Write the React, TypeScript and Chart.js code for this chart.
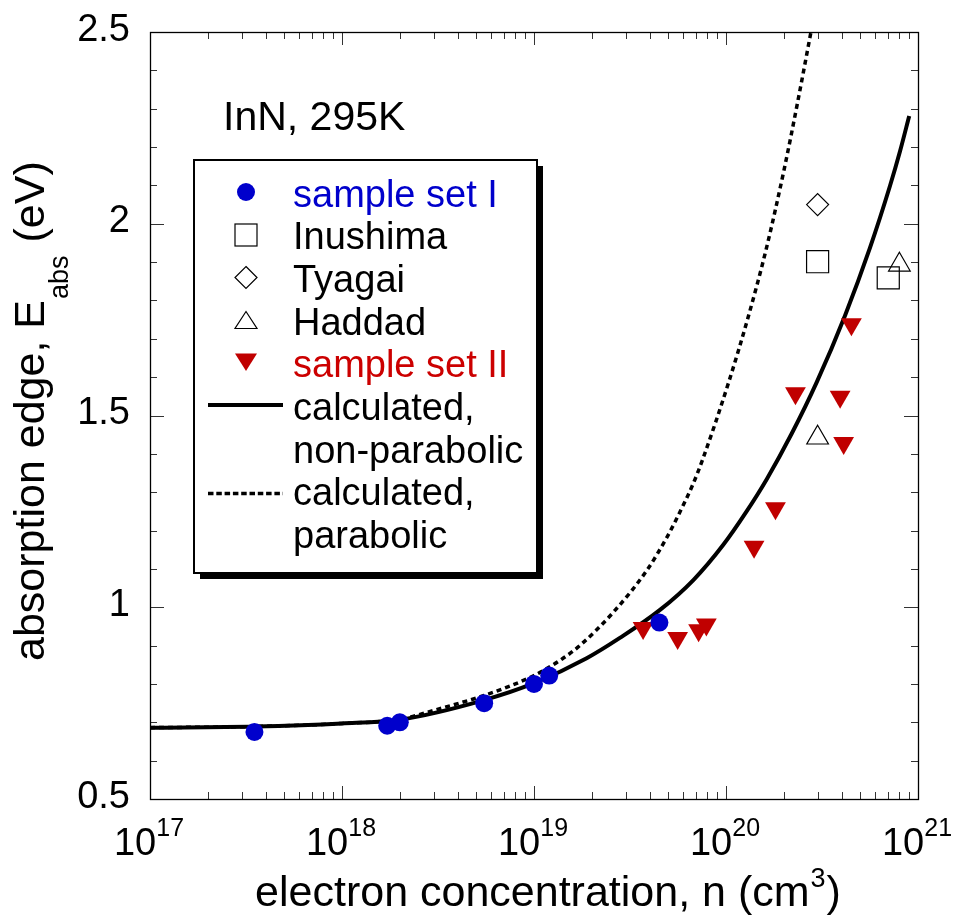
import React, { useEffect, useRef } from 'react';
import { Chart, registerables } from 'chart.js';

Chart.register(...registerables);

// ---------- data (electron concentration in cm^-3, absorption edge in eV) ----------
const setIDensity = [3.5e17, 1.72e18, 2.0e18, 5.5e18, 1.0e19, 1.2e19, 4.5e19];
const setIEdge = [0.675, 0.691, 0.7, 0.75, 0.8, 0.822, 0.96];

const setIIDensity = [3.7e19, 5.6e19, 7.2e19, 7.9e19, 1.4e20, 1.81e20, 2.3e20, 3.93e20, 4.1e20, 4.5e20];
const setIIEdge = [0.946, 0.92, 0.94, 0.955, 1.158, 1.258, 1.558, 1.549, 1.428, 1.738];

const inushimaDensity = [3.0e20, 7.0e20];
const inushimaEdge = [1.901, 1.859];

const tyagaiDensity = [3.0e20];
const tyagaiEdge = [2.05];

const haddadDensity = [3.0e20, 8.0e20];
const haddadEdge = [1.442, 1.893];

const nonParabolicDensity = [1e17, 3.5e17, 1e18, 2e18, 5.5e18, 1e19, 1.88e19, 2.8e19, 4.53e19, 6.76e19, 9.68e19, 1.28e20, 1.63e20, 2.2e20, 2.97e20, 4.17e20, 5.62e20, 7.15e20, 8.06e20, 9.0e20];
const nonParabolicEdge = [0.686, 0.689, 0.697, 0.707, 0.758, 0.802, 0.867, 0.92, 0.993, 1.071, 1.163, 1.25, 1.334, 1.453, 1.587, 1.761, 1.937, 2.099, 2.189, 2.281];

const parabolicDensity = [1e17, 3.5e17, 1e18, 2e18, 3.2e18, 5.5e18, 1e19, 1.4e19, 1.75e19, 2.6e19, 3.88e19, 4.93e19, 5.83e19, 6.77e19, 7.54e19, 1.03e20, 1.305e20, 1.616e20, 2.005e20, 2.357e20, 2.77e20];
const parabolicEdge = [0.686, 0.689, 0.697, 0.708, 0.735, 0.77, 0.822, 0.865, 0.902, 0.988, 1.097, 1.183, 1.254, 1.324, 1.384, 1.585, 1.757, 1.932, 2.14, 2.315, 2.5];

// ---------- axes ----------
const xMajorTicks = [1e17, 1e18, 1e19, 1e20, 1e21];
const xTickExponents = ['17', '18', '19', '20', '21'];
const yMajorTicks = [0.5, 1, 1.5, 2, 2.5];
const yTickLabels = ['0.5', '1', '1.5', '2', '2.5'];

const xTitle = 'electron concentration, n (cm';
const xTitleSup = '3';
const xTitleEnd = ')';
const yTitleMain = 'absorption edge, E';
const yTitleSub = 'abs';
const yTitleEnd = ' (eV)';
const annotation = 'InN, 295K';

const legendLabels = ['sample set I', 'Inushima', 'Tyagai', 'Haddad', 'sample set II', 'calculated,', 'non-parabolic', 'calculated,', 'parabolic'];
const legendColors = ['#0000CC', '#000', '#000', '#000', '#CC0000', '#000', '#000', '#000', '#000'];

const BLUE = '#0000CC';
const RED = '#C00000';
const FONT = "'Liberation Sans', Arial, Helvetica, sans-serif";

const toPoints = (xs: number[], ys: number[]) => xs.map((x, i) => ({ x, y: ys[i] }));

const decorPlugin = {
  id: 'decor',
  afterDraw(chart: any) {
    const ctx: CanvasRenderingContext2D = chart.ctx;
    const xs = chart.scales.x;
    const ys = chart.scales.y;
    const { left, right, top, bottom } = chart.chartArea;
    ctx.save();

    // ---- ticks (inward, all four sides) ----
    ctx.strokeStyle = '#333';
    ctx.lineWidth = 1;
    ctx.beginPath();
    for (let k = 0; k <= 20; k++) {
      const v = 0.5 + k * 0.1;
      const py = Math.round(ys.getPixelForValue(v)) + 0.5;
      const len = k % 5 === 0 ? 14 : 7;
      ctx.moveTo(left, py); ctx.lineTo(left + len, py);
      ctx.moveTo(right, py); ctx.lineTo(right - len, py);
    }
    for (let d = 17; d <= 21; d++) {
      for (let m = 1; m <= 9; m++) {
        if (d === 21 && m > 1) break;
        const v = m * Math.pow(10, d);
        const px = Math.round(xs.getPixelForValue(v)) + 0.5;
        const len = m === 1 ? 13 : 7;
        ctx.moveTo(px, bottom); ctx.lineTo(px, bottom - len);
        ctx.moveTo(px, top); ctx.lineTo(px, top + len);
      }
    }
    ctx.stroke();

    // ---- frame ----
    ctx.strokeStyle = '#000';
    ctx.lineWidth = 1.3;
    ctx.strokeRect(Math.round(left) + 0.5, Math.round(top) + 0.5, Math.round(right - left), Math.round(bottom - top));

    // ---- y tick labels ----
    ctx.fillStyle = '#000';
    ctx.font = `38px ${FONT}`;
    ctx.textAlign = 'right';
    ctx.textBaseline = 'alphabetic';
    yMajorTicks.forEach((v, i) => {
      ctx.fillText(yTickLabels[i], 130, ys.getPixelForValue(v) + 8.5);
    });

    // ---- x tick labels (10^n) ----
    ctx.textAlign = 'left';
    xMajorTicks.forEach((v, i) => {
      const px = xs.getPixelForValue(v);
      ctx.font = `38px ${FONT}`;
      const w1 = ctx.measureText('10').width;
      ctx.font = `25px ${FONT}`;
      const w2 = ctx.measureText(xTickExponents[i]).width;
      const x0 = px - (w1 + w2) / 2 - 1;
      ctx.font = `38px ${FONT}`;
      ctx.fillText('10', x0, 855);
      ctx.font = `25px ${FONT}`;
      ctx.fillText(xTickExponents[i], x0 + w1, 836);
    });

    // ---- x title ----
    ctx.font = `43px ${FONT}`;
    const t1 = ctx.measureText(xTitle).width;
    const t3 = ctx.measureText(xTitleEnd).width;
    ctx.font = `27px ${FONT}`;
    const t2 = ctx.measureText(xTitleSup).width;
    const tx = 547 - (t1 + t2 + t3) / 2;
    ctx.font = `43px ${FONT}`;
    ctx.fillText(xTitle, tx, 906);
    ctx.font = `27px ${FONT}`;
    ctx.fillText(xTitleSup, tx + t1 + 1, 887);
    ctx.font = `43px ${FONT}`;
    ctx.fillText(xTitleEnd, tx + t1 + t2 + 2, 906);

    // ---- y title (rotated) ----
    ctx.save();
    ctx.translate(44, 661);
    ctx.rotate(-Math.PI / 2);
    ctx.font = `43px ${FONT}`;
    const y1 = ctx.measureText(yTitleMain).width;
    ctx.fillText(yTitleMain, 0, 0);
    ctx.font = `27px ${FONT}`;
    const y2 = ctx.measureText(yTitleSub).width;
    ctx.fillText(yTitleSub, y1 + 1, 24);
    ctx.font = `43px ${FONT}`;
    ctx.fillText(yTitleEnd, y1 + y2 + 2, 0);
    ctx.restore();

    // ---- annotation ----
    ctx.font = `41px ${FONT}`;
    ctx.fillStyle = '#000';
    ctx.fillText(annotation, 223, 130);

    // ---- legend box ----
    const bx = 194, by = 160, bw = 343, bh = 413;
    ctx.fillStyle = '#000';
    ctx.fillRect(bx + 6, by + 6, bw, bh);
    ctx.fillStyle = '#fff';
    ctx.fillRect(bx, by, bw, bh);
    ctx.strokeStyle = '#000';
    ctx.lineWidth = 2;
    ctx.strokeRect(bx, by, bw, bh);

    const sx = 246;
    // circle
    ctx.fillStyle = BLUE;
    ctx.beginPath();
    ctx.arc(sx, 192, 9, 0, Math.PI * 2);
    ctx.fill();
    // square
    ctx.strokeStyle = '#000';
    ctx.lineWidth = 1.2;
    ctx.strokeRect(sx - 11, 235 - 11, 22, 22);
    // diamond
    ctx.beginPath();
    ctx.moveTo(sx, 277.5 - 11); ctx.lineTo(sx + 11, 277.5); ctx.lineTo(sx, 277.5 + 11); ctx.lineTo(sx - 11, 277.5);
    ctx.closePath();
    ctx.stroke();
    // open triangle
    ctx.beginPath();
    ctx.moveTo(sx, 311.5); ctx.lineTo(sx + 11, 328.5); ctx.lineTo(sx - 11, 328.5);
    ctx.closePath();
    ctx.stroke();
    // red down triangle
    ctx.fillStyle = RED;
    ctx.beginPath();
    ctx.moveTo(sx - 11, 353.5); ctx.lineTo(sx + 11, 353.5); ctx.lineTo(sx, 371);
    ctx.closePath();
    ctx.fill();
    // solid line
    ctx.strokeStyle = '#000';
    ctx.lineWidth = 4;
    ctx.beginPath();
    ctx.moveTo(208, 405); ctx.lineTo(283, 405);
    ctx.stroke();
    // dashed line
    ctx.lineWidth = 3.5;
    ctx.setLineDash([5.5, 2.8]);
    ctx.beginPath();
    ctx.moveTo(208, 493.5); ctx.lineTo(283, 493.5);
    ctx.stroke();
    ctx.setLineDash([]);

    ctx.font = `38px ${FONT}`;
    ctx.textAlign = 'left';
    legendLabels.forEach((label, i) => {
      ctx.fillStyle = legendColors[i];
      ctx.fillText(label, 293, 206.5 + 42.7 * i);
    });

    ctx.restore();
  },
};

export default function App() {
  const ref = useRef<HTMLCanvasElement>(null);

  useEffect(() => {
    const canvas = ref.current;
    if (!canvas) return;
    const chart = new Chart(canvas, {
      type: 'scatter',
      data: {
        datasets: [
          {
            label: 'sample set I',
            data: toPoints(setIDensity, setIEdge),
            pointStyle: 'circle',
            pointRadius: 9,
            backgroundColor: BLUE,
            borderWidth: 0,
          },
          {
            label: 'sample set II',
            data: toPoints(setIIDensity, setIIEdge),
            pointStyle: 'triangle',
            pointRotation: 180,
            pointRadius: 12,
            backgroundColor: RED,
            borderWidth: 0,
          },
          {
            label: 'Haddad',
            data: toPoints(haddadDensity, haddadEdge),
            pointStyle: 'triangle',
            pointRadius: 12.5,
            backgroundColor: 'rgba(0,0,0,0)',
            borderColor: '#000',
            borderWidth: 1.2,
          },
          {
            label: 'Tyagai',
            data: toPoints(tyagaiDensity, tyagaiEdge),
            pointStyle: 'rectRot',
            pointRadius: 11,
            backgroundColor: 'rgba(0,0,0,0)',
            borderColor: '#000',
            borderWidth: 1.2,
          },
          {
            label: 'Inushima',
            data: toPoints(inushimaDensity, inushimaEdge),
            pointStyle: 'rect',
            pointRadius: 15.6,
            backgroundColor: 'rgba(0,0,0,0)',
            borderColor: '#000',
            borderWidth: 1.2,
          },
          {
            label: 'calculated, non-parabolic',
            data: toPoints(nonParabolicDensity, nonParabolicEdge),
            showLine: true,
            pointRadius: 0,
            borderColor: '#000',
            borderWidth: 4,
            cubicInterpolationMode: 'monotone',
            fill: false,
          },
          {
            label: 'calculated, parabolic',
            data: toPoints(parabolicDensity, parabolicEdge),
            showLine: true,
            pointRadius: 0,
            borderColor: '#000',
            borderWidth: 3.5,
            borderDash: [5, 4],
            borderCapStyle: 'butt',
            cubicInterpolationMode: 'monotone',
            fill: false,
          },
        ] as any,
      },
      options: {
        responsive: false,
        maintainAspectRatio: false,
        devicePixelRatio: 1,
        animation: false,
        events: [],
        layout: { padding: { left: 150, top: 32, right: 37, bottom: 124 } },
        plugins: {
          legend: { display: false },
          tooltip: { enabled: false },
          title: { display: false },
        },
        scales: {
          x: { type: 'logarithmic', min: 1e17, max: 1e21, display: false },
          y: { type: 'linear', min: 0.5, max: 2.5, display: false },
        },
      } as any,
      plugins: [decorPlugin],
    });
    return () => chart.destroy();
  }, []);

  return (
    <div style={{ position: 'absolute', left: 0, top: 0, width: 955, height: 923, background: '#fff' }}>
      <canvas ref={ref} width={955} height={923} style={{ display: 'block', width: 955, height: 923 }} />
    </div>
  );
}
